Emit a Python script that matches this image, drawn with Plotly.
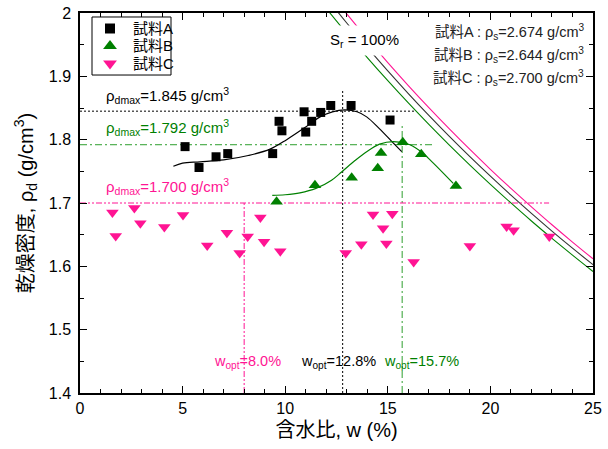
import plotly.graph_objects as go

# ---- data ----
wA = [5.12, 5.80, 6.63, 7.20, 9.39, 9.70, 9.84, 10.92, 11.00, 11.29, 11.73, 12.22, 13.21, 15.11]
rhoA = [1.789, 1.756, 1.773, 1.778, 1.778, 1.829, 1.814, 1.844, 1.812, 1.829, 1.843, 1.854, 1.854, 1.831]

wB = [9.58, 11.45, 13.24, 14.51, 14.67, 15.73, 16.63, 18.32]
rhoB = [1.702, 1.728, 1.740, 1.755, 1.779, 1.796, 1.777, 1.727]

wC = [1.58, 1.74, 2.65, 2.94, 4.11, 5.02, 6.20, 7.16, 7.78, 8.17, 8.79, 8.97, 9.76,
      12.95, 13.71, 14.28, 14.77, 14.93, 15.22, 16.26, 19.00, 20.79, 21.13, 22.87]
rhoC = [1.685, 1.648, 1.692, 1.668, 1.662, 1.681, 1.633, 1.653, 1.621, 1.647, 1.677, 1.639, 1.624,
        1.621, 1.635, 1.682, 1.660, 1.636, 1.683, 1.607, 1.632, 1.663, 1.657, 1.647]

fitA_w = [4.55, 5.0, 5.85, 7.0, 8.2, 9.26, 10.07, 11.0, 11.7, 12.3, 12.91, 13.5, 13.97, 14.6, 15.2, 15.68]
fitA_rho = [1.758, 1.763, 1.765, 1.768, 1.775, 1.785, 1.800, 1.820, 1.836, 1.844, 1.847, 1.844, 1.836, 1.817, 1.797, 1.781]

fitB_w = [9.37, 10.0, 10.72, 11.5, 12.26, 12.75, 13.4, 13.97, 14.6, 15.27, 16.08, 16.7, 17.22, 18.19]
fitB_rho = [1.712, 1.713, 1.716, 1.723, 1.736, 1.749, 1.767, 1.781, 1.793, 1.797, 1.792, 1.779, 1.763, 1.731]

# zero-air-void (Sr = 100%) curves
sat_w = [12, 13, 14, 15, 16, 17, 18, 19, 20, 21, 22, 23, 24, 25]
satA = [2.0244, 1.9842, 1.9456, 1.9085, 1.8728, 1.8383, 1.8051, 1.7731, 1.7423, 1.7124, 1.6836, 1.6557, 1.6287, 1.6026]
satB = [2.0072, 1.9677, 1.9297, 1.8932, 1.8580, 1.8241, 1.7914, 1.7599, 1.7295, 1.7001, 1.6716, 1.6442, 1.6176, 1.5918]
satC = [2.0393, 1.9985, 1.9594, 1.9217, 1.8855, 1.8506, 1.8170, 1.7845, 1.7532, 1.7230, 1.6939, 1.6656, 1.6383, 1.6119]

samples = ["試料A", "試料B", "試料C"]
rho_s = ["2.674", "2.644", "2.700"]
rho_dmax = [1.845, 1.792, 1.700]
w_opt = [12.8, 15.7, 8.0]

# ---- styles ----
BLACK = "#000000"
GREEN = "#008000"
GREEN_L = "#2e9e2e"
PINK = "#ff1493"
FONT = "Liberation Sans, Arial, Noto Sans CJK JP"

hline_end = [16.37, 17.2, 22.86]
vline_top = [1.878, 1.826, 1.700]
ref_colors = [BLACK, GREEN_L, PINK]
ref_dash = ["2px,2px", "7px,3px,2px,3px", "6px,2px,2px,2px,2px,2px"]

fig = go.Figure()

# Sr = 100% lines
for s, c in [(satB, GREEN), (satA, "#333333"), (satC, PINK)]:
    fig.add_trace(go.Scatter(x=sat_w, y=s, mode="lines", line=dict(color=c, width=1.1, shape="spline"),
                             showlegend=False, hoverinfo="skip"))

# reference lines
for i in range(3):
    fig.add_trace(go.Scatter(x=[0, hline_end[i]], y=[rho_dmax[i], rho_dmax[i]], mode="lines",
                             line=dict(color=ref_colors[i], width=1, dash=ref_dash[i]),
                             showlegend=False, hoverinfo="skip"))
    fig.add_trace(go.Scatter(x=[w_opt[i], w_opt[i]], y=[1.4, vline_top[i]], mode="lines",
                             line=dict(color=ref_colors[i], width=1, dash=ref_dash[i]),
                             showlegend=False, hoverinfo="skip"))

# fitted curves
fig.add_trace(go.Scatter(x=fitA_w, y=fitA_rho, mode="lines", line=dict(color=BLACK, width=1.2, shape="spline"),
                         showlegend=False, hoverinfo="skip"))
fig.add_trace(go.Scatter(x=fitB_w, y=fitB_rho, mode="lines", line=dict(color=GREEN, width=1.2, shape="spline"),
                         showlegend=False, hoverinfo="skip"))

# markers
sym = ["square", "triangle-up", "triangle-down"]
msize = [9, 11, 11]
mcol = [BLACK, GREEN, PINK]
for i, (xs, ys) in enumerate([(wA, rhoA), (wB, rhoB), (wC, rhoC)]):
    fig.add_trace(go.Scatter(x=xs, y=ys, mode="markers", name=samples[i], showlegend=False,
                             marker=dict(symbol=sym[i], size=msize[i], color=mcol[i])))

# compact legend: markers on an overlay axis in plot-fraction units
leg_row_y = [0.9592, 0.9132, 0.8671]
for i in range(3):
    fig.add_trace(go.Scatter(x=[0.0585], y=[leg_row_y[i]], xaxis="x2", yaxis="y2", mode="markers",
                             showlegend=False, hoverinfo="skip",
                             marker=dict(symbol=sym[i], size=msize[i] + 1, color=mcol[i])))

shapes = [dict(type="rect", xref="paper", yref="paper", x0=0.0234, x1=0.1774, y0=0.8368, y1=0.9895,
               line=dict(color=BLACK, width=1), fillcolor="white", layer="below")]

ann = []
for i in range(3):
    ann.append(dict(x=0.0987, y=leg_row_y[i], xref="paper", yref="paper", xanchor="left", yanchor="middle",
                    text=samples[i], showarrow=False, font=dict(size=15, color=BLACK, family=FONT)))
# rho_dmax labels
lab_y = [1.869, 1.819, 1.726]
lab_col = [BLACK, GREEN, PINK]
for i in range(3):
    ann.append(dict(x=1.15, y=lab_y[i], xref="x", yref="y", xanchor="left", yanchor="middle",
                    text=f"ρ<sub>dmax</sub>={rho_dmax[i]:.3f} g/cm<sup>3</sup>", showarrow=False,
                    font=dict(size=15, color=lab_col[i], family=FONT)))
# w_opt labels
wl_x = [12.62, 16.62, 8.16]
for i in range(3):
    ann.append(dict(x=wl_x[i], y=1.449, xref="x", yref="y", xanchor="center", yanchor="middle",
                    text=f"w<sub>opt</sub>={w_opt[i]:.1f}%", showarrow=False,
                    font=dict(size=14.5, color=lab_col[i], family=FONT)))
# Sr label
ann.append(dict(x=13.84, y=1.957, xref="x", yref="y", xanchor="center", yanchor="middle",
                text="S<sub>r</sub> = 100%", showarrow=False, bgcolor="white", borderpad=5,
                font=dict(size=15, color=BLACK, family=FONT)))
# rho_s labels
rs_y = [0.95, 0.889, 0.829]
for i in range(3):
    ann.append(dict(x=0.986, y=rs_y[i], xref="paper", yref="paper", xanchor="right", yanchor="middle",
                    text=f"{samples[i]} : ρ<sub>s</sub>={rho_s[i]} g/cm<sup>3</sup>", showarrow=False,
                    font=dict(size=14.5, color="#222222", family=FONT)))

fig.update_layout(
    width=608, height=449,
    margin=dict(l=80, r=15, t=13, b=56, autoexpand=False),
    paper_bgcolor="white", plot_bgcolor="white",
    font=dict(family=FONT, size=16, color=BLACK),
    annotations=ann, shapes=shapes, showlegend=False,
    xaxis=dict(range=[0, 25], dtick=5, tick0=0, showgrid=False, zeroline=False, automargin=False,
               showline=True, linecolor=BLACK, linewidth=1.5, mirror="ticks",
               ticks="inside", ticklen=7, tickwidth=1, tickcolor=BLACK,
               minor=dict(dtick=1, ticks="inside", ticklen=4, tickcolor=BLACK),
               tickfont=dict(size=16),
               title=dict(text="含水比, w (%)", font=dict(size=20), standoff=7)),
    yaxis=dict(range=[1.4, 2.0], dtick=0.1, tick0=1.4, showgrid=False, zeroline=False, automargin=False,
               showline=True, linecolor=BLACK, linewidth=1.5, mirror="ticks",
               ticks="inside", ticklen=7, tickwidth=1, tickcolor=BLACK,
               minor=dict(dtick=0.05, ticks="inside", ticklen=4, tickcolor=BLACK),
               tickfont=dict(size=16), ticklabelstandoff=4,
               title=dict(text="乾燥密度, ρ<sub>d</sub> (g/cm<sup>3</sup>)", font=dict(size=20), standoff=10)),
    xaxis2=dict(overlaying="x", range=[0, 1], visible=False, fixedrange=True),
    yaxis2=dict(overlaying="y", range=[0, 1], visible=False, fixedrange=True),
)

fig.write_html("out.html")
